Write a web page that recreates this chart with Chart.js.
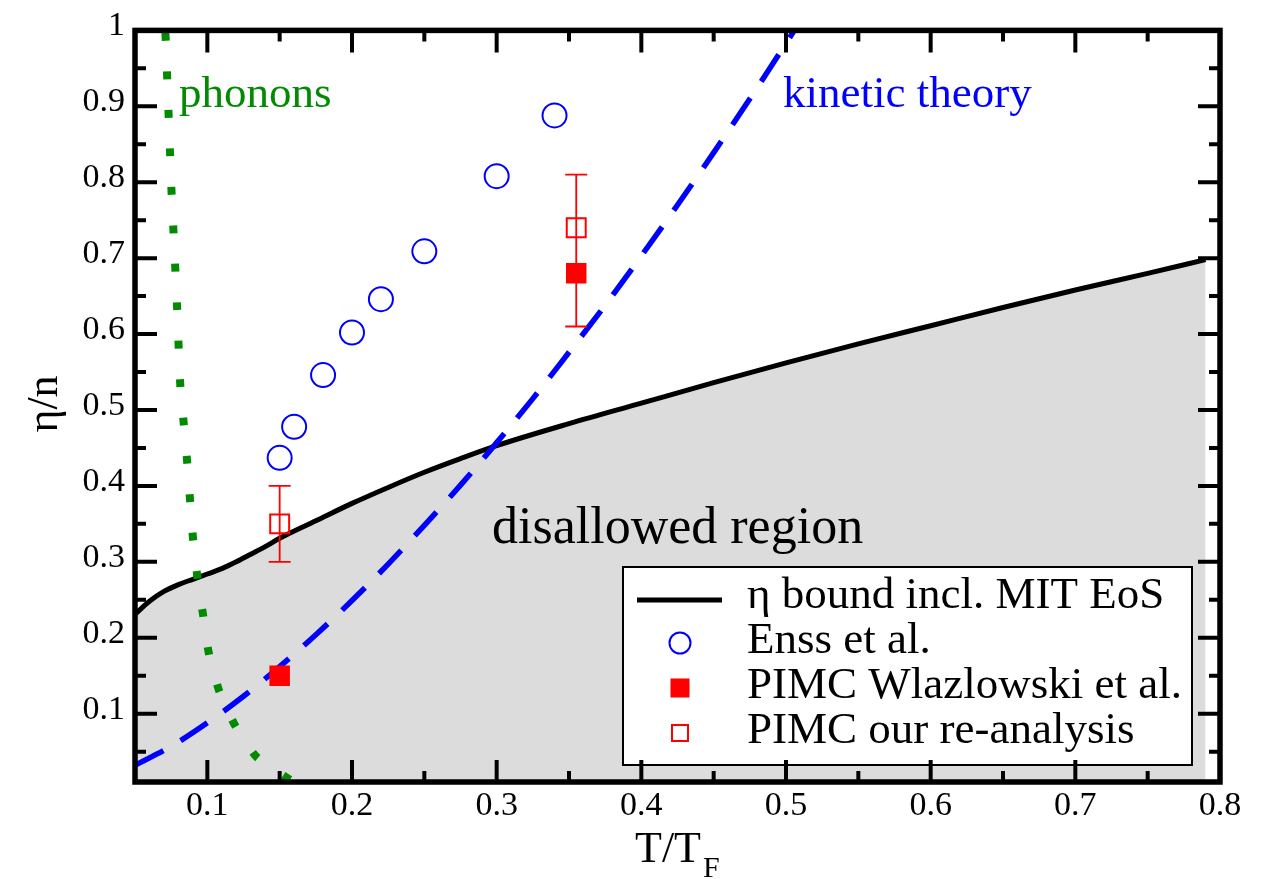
<!DOCTYPE html>
<html><head><meta charset="utf-8">
<script src="https://cdn.jsdelivr.net/npm/chart.js@4.4.1/dist/chart.umd.min.js"></script>
<style>html,body{margin:0;padding:0;background:#fff;}#wrap{width:1267px;height:879px;}</style>
</head><body><div id="wrap"><canvas id="c" width="1267" height="879"></canvas></div>
<script>
// ---- data ----
const boundT   = [0.05,0.06,0.07,0.08,0.09,0.10,0.11,0.12,0.13,0.14,0.15,0.175,0.20,0.225,0.25,0.275,0.30,0.35,0.40,0.45,0.50,0.55,0.60,0.65,0.70,0.75,0.79];
const boundEta = [0.231,0.248,0.261,0.270,0.277,0.284,0.291,0.300,0.310,0.320,0.331,0.354,0.377,0.398,0.418,0.436,0.453,0.482,0.509,0.536,0.562,0.587,0.611,0.635,0.658,0.680,0.698];

const kinT   = [0.05,0.075,0.10,0.125,0.15,0.175,0.20,0.225,0.25,0.275,0.30,0.325,0.35,0.375,0.40,0.425,0.45,0.475,0.50,0.52];
const kinEta = [0.032,0.057,0.088,0.123,0.162,0.204,0.249,0.297,0.348,0.401,0.457,0.515,0.576,0.638,0.703,0.770,0.839,0.910,0.983,1.043];

const phonT   = [0.0708,0.0712,0.0722,0.0732,0.0742,0.0752,0.0770,0.0790,0.0813,0.0836,0.0860,0.0880,0.0900,0.0930,0.0970,0.1010,0.1080,0.1190,0.1340,0.1580];
const phonEta = [1.00,0.99,0.94,0.89,0.84,0.79,0.72,0.64,0.533,0.484,0.433,0.383,0.333,0.282,0.231,0.180,0.131,0.085,0.043,0.012];

const enssT   = [0.15,0.16,0.18,0.20,0.22,0.25,0.30,0.34];
const enssEta = [0.437,0.478,0.546,0.602,0.646,0.709,0.808,0.888];

const wlT   = [0.15,0.355];
const wlEta = [0.15,0.68];

const reT     = [0.15,0.355];
const reEta   = [0.35,0.74];
const reErrLo = [0.30,0.61];
const reErrHi = [0.40,0.81];

const xMajor = [0.1,0.2,0.3,0.4,0.5,0.6,0.7,0.8];
const xMinor = [0.15,0.25,0.35,0.45,0.55,0.65,0.75];
const yMajor = [0.1,0.2,0.3,0.4,0.5,0.6,0.7,0.8,0.9,1.0];
const yMinor = [0.05,0.15,0.25,0.35,0.45,0.55,0.65,0.75,0.85,0.95];

const FONT = '"Liberation Serif","Times New Roman",Times,serif';

const toXY = (xs, ys) => xs.map((v, i) => ({x: v, y: ys[i]}));
const labelFor = (v, arr) => {
  const hit = arr.find(a => Math.abs(a - v) < 1e-6);
  if (hit === undefined) return '';
  return Math.abs(hit - 1) < 1e-9 ? '1' : hit.toFixed(1);
};

const errPlugin = {
  id: 'errbars',
  beforeDatasetDraw(chart, args) {
    if (chart.data.datasets[args.index].label !== 'PIMC our re-analysis') return;
    const {ctx, scales: {x, y}} = chart;
    ctx.save();
    ctx.strokeStyle = '#ff0000';
    ctx.lineWidth = 1.8;
    reT.forEach((t, i) => {
      const px = x.getPixelForValue(t);
      const lo = y.getPixelForValue(reErrLo[i]);
      const hi = y.getPixelForValue(reErrHi[i]);
      ctx.beginPath();
      ctx.moveTo(px, lo); ctx.lineTo(px, hi);
      ctx.moveTo(px - 11, lo); ctx.lineTo(px + 11, lo);
      ctx.moveTo(px - 11, hi); ctx.lineTo(px + 11, hi);
      ctx.stroke();
    });
    ctx.restore();
  }
};

const framePlugin = {
  id: 'frame',
  afterDatasetsDraw(chart) {
    const {ctx, chartArea: {left, right, top, bottom}, scales: {x, y}} = chart;
    ctx.save();
    // annotations
    ctx.textBaseline = 'alphabetic';
    ctx.textAlign = 'left';
    ctx.font = '45px ' + FONT;
    ctx.fillStyle = '#008b00';
    ctx.fillText('phonons', 179, 107);
    ctx.fillStyle = '#0000ff';
    ctx.fillText('kinetic theory', 783, 107);
    ctx.fillStyle = '#000';
    ctx.font = '52px ' + FONT;
    ctx.fillText('disallowed region', 492, 543);

    // legend
    const lx = 623, ly = 567, lw = 569, lh = 198;
    ctx.fillStyle = '#fff';
    ctx.fillRect(lx, ly, lw, lh);
    ctx.lineWidth = 2;
    ctx.strokeStyle = '#000';
    ctx.strokeRect(lx, ly, lw, lh);
    const ds = chart.data.datasets;
    const rows = [
      {label: ds[0].label, base: 608, mark: 600, kind: 'line'},
      {label: ds[5].label, base: 653, mark: 643, kind: 'circle'},
      {label: ds[4].label, base: 698, mark: 688, kind: 'fsq'},
      {label: ds[3].label, base: 743, mark: 733, kind: 'osq'}
    ];
    rows.forEach(r => {
      if (r.kind === 'line') {
        ctx.strokeStyle = '#000'; ctx.lineWidth = 5;
        ctx.beginPath(); ctx.moveTo(637, r.mark); ctx.lineTo(722, r.mark); ctx.stroke();
      } else if (r.kind === 'circle') {
        ctx.strokeStyle = '#0000ff'; ctx.lineWidth = 2;
        ctx.beginPath(); ctx.arc(680, r.mark, 10.5, 0, Math.PI * 2); ctx.stroke();
      } else if (r.kind === 'fsq') {
        ctx.fillStyle = '#ff0000'; ctx.fillRect(670.5, r.mark - 9.5, 19, 19);
      } else {
        ctx.strokeStyle = '#ff0000'; ctx.lineWidth = 2; ctx.strokeRect(672, r.mark - 8, 16, 16);
      }
      ctx.fillStyle = '#000';
      ctx.font = '45px ' + FONT;
      ctx.fillText(r.label, 747, r.base);
    });

    // frame
    ctx.strokeStyle = '#000';
    ctx.lineWidth = 5.5;
    ctx.lineJoin = 'miter';
    ctx.strokeRect(left, top, right - left, bottom - top);
    // inward ticks on all four sides
    ctx.lineWidth = 4;
    ctx.lineCap = 'butt';
    const tick = (vals, len) => {
      vals.forEach(v => {
        const px = x.getPixelForValue(v);
        if (px > left + 1 && px < right - 1) {
          ctx.beginPath();
          ctx.moveTo(px, bottom); ctx.lineTo(px, bottom - len);
          ctx.moveTo(px, top); ctx.lineTo(px, top + len);
          ctx.stroke();
        }
      });
    };
    const ytick = (vals, len) => {
      vals.forEach(v => {
        const py = y.getPixelForValue(v);
        if (py > top + 1 && py < bottom - 1) {
          ctx.beginPath();
          ctx.moveTo(left, py); ctx.lineTo(left + len, py);
          ctx.moveTo(right, py); ctx.lineTo(right - len, py);
          ctx.stroke();
        }
      });
    };
    tick(xMajor, 22); tick(xMinor, 11);
    ytick(yMajor, 22); ytick(yMinor, 11);

    // axis titles
    ctx.fillStyle = '#000';
    ctx.font = '44px ' + FONT;
    ctx.textAlign = 'left';
    ctx.fillText('T/T', 635, 862);
    const w = ctx.measureText('T/T').width;
    ctx.font = '30px ' + FONT;
    ctx.fillText('F', 635 + w + 2, 877);
    ctx.save();
    ctx.translate(57, 404);
    ctx.rotate(-Math.PI / 2);
    ctx.font = '44px ' + FONT;
    ctx.textAlign = 'center';
    ctx.fillText('η/n', 0, 0);
    ctx.restore();
    ctx.restore();
  }
};

new Chart(document.getElementById('c'), {
  type: 'line',
  data: {
    datasets: [
      {label: 'η bound incl. MIT EoS', data: toXY(boundT, boundEta), borderColor: '#000', borderWidth: 5,
       backgroundColor: '#dcdcdc', fill: 'start', pointRadius: 0, cubicInterpolationMode: 'monotone', order: 10},
      {label: 'kinetic theory', data: toXY(kinT, kinEta), borderColor: '#0000ff', borderWidth: 5.5,
       borderDash: [32, 20], fill: false, pointRadius: 0, cubicInterpolationMode: 'monotone', order: 9},
      {label: 'phonons', data: toXY(phonT, phonEta), borderColor: '#008b00', borderWidth: 8,
       borderDash: [8, 30.5], borderDashOffset: 36, borderCapStyle: 'butt', fill: false, pointRadius: 0, tension: 0.2, order: 8},
      {label: 'PIMC our re-analysis', data: toXY(reT, reEta), showLine: false, pointStyle: 'rect', pointRadius: 13.4,
       borderWidth: 2, borderColor: '#ff0000', backgroundColor: 'rgba(0,0,0,0)', order: 5},
      {label: 'PIMC Wlazlowski et al.', data: toXY(wlT, wlEta), showLine: false, pointStyle: 'rect', pointRadius: 14.5,
       borderWidth: 0, borderColor: '#ff0000', backgroundColor: '#ff0000', order: 4},
      {label: 'Enss et al.', data: toXY(enssT, enssEta), showLine: false, pointStyle: 'circle', pointRadius: 12,
       borderWidth: 2, borderColor: '#0000ff', backgroundColor: 'rgba(0,0,0,0)', order: 3}
    ]
  },
  options: {
    responsive: false,
    animation: false,
    events: [],
    layout: {padding: {left: 0, right: 47, top: 24, bottom: 0}},
    plugins: {legend: {display: false}, tooltip: {enabled: false}},
    scales: {
      x: {
        type: 'linear', min: 0.05, max: 0.8,
        afterFit(s) { s.height = 97; },
        grid: {display: false, drawTicks: false},
        border: {display: false},
        ticks: {stepSize: 0.05, autoSkip: false, maxRotation: 0, padding: 4, color: '#000',
                font: {family: FONT, size: 34}, callback: v => labelFor(v, xMajor)}
      },
      y: {
        type: 'linear', min: 0.01, max: 1.0,
        afterFit(s) { s.width = 135; },
        grid: {display: false, drawTicks: false},
        border: {display: false},
        ticks: {stepSize: 0.05, autoSkip: false, padding: 10, labelOffset: -4, color: '#000',
                font: {family: FONT, size: 34}, callback: v => labelFor(v, yMajor)}
      }
    }
  },
  plugins: [errPlugin, framePlugin]
});
</script>
</body></html>
